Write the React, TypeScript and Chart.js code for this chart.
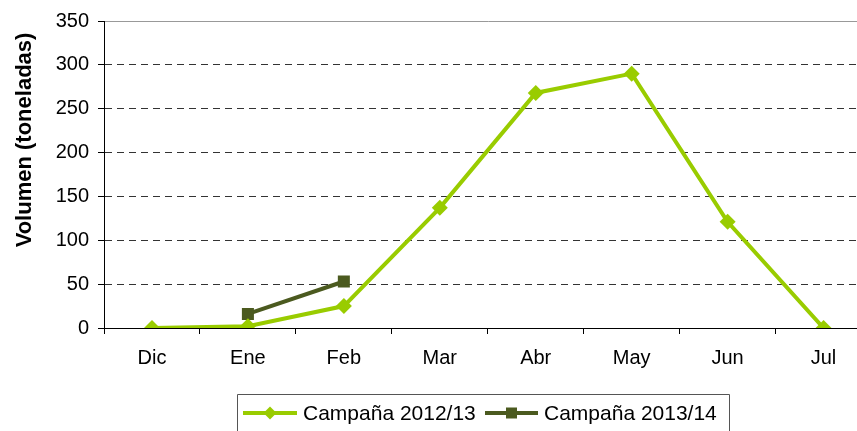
import React, { useEffect, useRef } from "react";
import { Chart, registerables } from "chart.js";

Chart.register(...registerables);

const categories = ["Dic", "Ene", "Feb", "Mar", "Abr", "May", "Jun", "Jul"];
const campana1213 = [0, 2, 25, 137, 268, 290, 121, 0];
const campana1314 = [null, 16, 53, null, null, null, null, null];
const seriesLabels = ["Campaña 2012/13", "Campaña 2013/14"];
const yTitle = "Volumen (toneladas)";

const FONT = "'Liberation Sans', Arial, sans-serif";
const GREEN = "#99CC00";
const DARK = "#4B5A1F";

const overlayPlugin = {
  id: "overlay",
  afterDraw(chart: any) {
    const ctx = chart.ctx;
    // y-axis title
    ctx.save();
    ctx.translate(25, 140);
    ctx.rotate(-Math.PI / 2);
    ctx.font = `bold 22px ${FONT}`;
    ctx.fillStyle = "#000";
    ctx.textAlign = "center";
    ctx.textBaseline = "middle";
    ctx.fillText(yTitle, 0, 0);
    ctx.restore();

    // legend
    ctx.save();
    ctx.strokeStyle = "#555";
    ctx.lineWidth = 1;
    ctx.beginPath();
    ctx.moveTo(237.5, 440);
    ctx.lineTo(237.5, 394.5);
    ctx.lineTo(729.5, 394.5);
    ctx.lineTo(729.5, 440);
    ctx.stroke();
    const items = [
      { x0: 243, x1: 297, tx: 303, ds: chart.data.datasets[0] },
      { x0: 485, x1: 538, tx: 544, ds: chart.data.datasets[1] },
    ];
    const cy = 413;
    items.forEach((it) => {
      ctx.strokeStyle = it.ds.borderColor;
      ctx.lineWidth = 4;
      ctx.beginPath();
      ctx.moveTo(it.x0, cy);
      ctx.lineTo(it.x1, cy);
      ctx.stroke();
      ctx.fillStyle = it.ds.borderColor;
      const mx = (it.x0 + it.x1) / 2;
      ctx.beginPath();
      if (it.ds.pointStyle === "rectRot") {
        const r = 6.5;
        ctx.moveTo(mx, cy - r);
        ctx.lineTo(mx + r, cy);
        ctx.lineTo(mx, cy + r);
        ctx.lineTo(mx - r, cy);
        ctx.closePath();
      } else {
        ctx.rect(mx - 5.5, cy - 5.5, 11, 11);
      }
      ctx.fill();
      ctx.fillStyle = "#000";
      ctx.font = `21px ${FONT}`;
      ctx.textAlign = "left";
      ctx.textBaseline = "middle";
      ctx.fillText(it.ds.label, it.tx, cy + 1);
    });
    ctx.restore();
  },
};

export default function App() {
  const ref = useRef<HTMLCanvasElement>(null);
  useEffect(() => {
    const canvas = ref.current!;
    const chart = new Chart(canvas, {
      type: "line",
      data: {
        labels: categories,
        datasets: [
          {
            label: seriesLabels[0],
            data: campana1213,
            borderColor: GREEN,
            backgroundColor: GREEN,
            borderWidth: 4,
            pointStyle: "rectRot",
            pointRadius: 8,
            pointBorderWidth: 0,
            tension: 0,
          },
          {
            label: seriesLabels[1],
            data: campana1314,
            borderColor: DARK,
            backgroundColor: DARK,
            borderWidth: 4,
            pointStyle: "rect",
            pointRadius: 8.5,
            pointBorderWidth: 0,
            tension: 0,
          },
        ],
      },
      options: {
        responsive: false,
        animation: false,
        devicePixelRatio: 1,
        layout: { padding: { top: 20, right: 4, bottom: 63, left: 0 } },
        plugins: {
          legend: { display: false },
          tooltip: { enabled: false },
        },
        scales: {
          x: {
            type: "category",
            offset: true,
            afterFit: (s: any) => {
              s.height = 40;
            },
            grid: {
              offset: true,
              drawOnChartArea: false,
              drawTicks: true,
              tickLength: 6,
              tickColor: "#000",
            },
            border: { display: true, color: "#000", width: 1 },
            ticks: {
              color: "#000",
              padding: 12,
              font: { family: FONT, size: 20 },
              maxRotation: 0,
            },
          },
          y: {
            type: "linear",
            min: 0,
            max: 350,
            afterFit: (s: any) => {
              s.width = 104;
            },
            grid: {
              color: (c: any) => (c.tick && c.tick.value === 350 ? "#999" : "#333"),
              lineWidth: 1,
              drawTicks: true,
              tickLength: 6,
              tickColor: "#000",
            },
            border: {
              display: true,
              color: "#000",
              width: 1,
              dash: (c: any) => (c.tick && c.tick.value === 350 ? [] : [7, 5]),
            },
            ticks: {
              stepSize: 50,
              color: "#000",
              padding: 9,
              font: { family: FONT, size: 20 },
            },
          },
        },
      },
      plugins: [overlayPlugin],
    } as any);
    return () => chart.destroy();
  }, []);
  return (
    <div
      style={{
        position: "fixed",
        left: 0,
        top: 0,
        width: 857,
        height: 431,
        overflow: "hidden",
        background: "#fff",
      }}
    >
      <canvas ref={ref} width={880} height={431} style={{ width: 880, height: 431, display: "block" }} />
    </div>
  );
}
